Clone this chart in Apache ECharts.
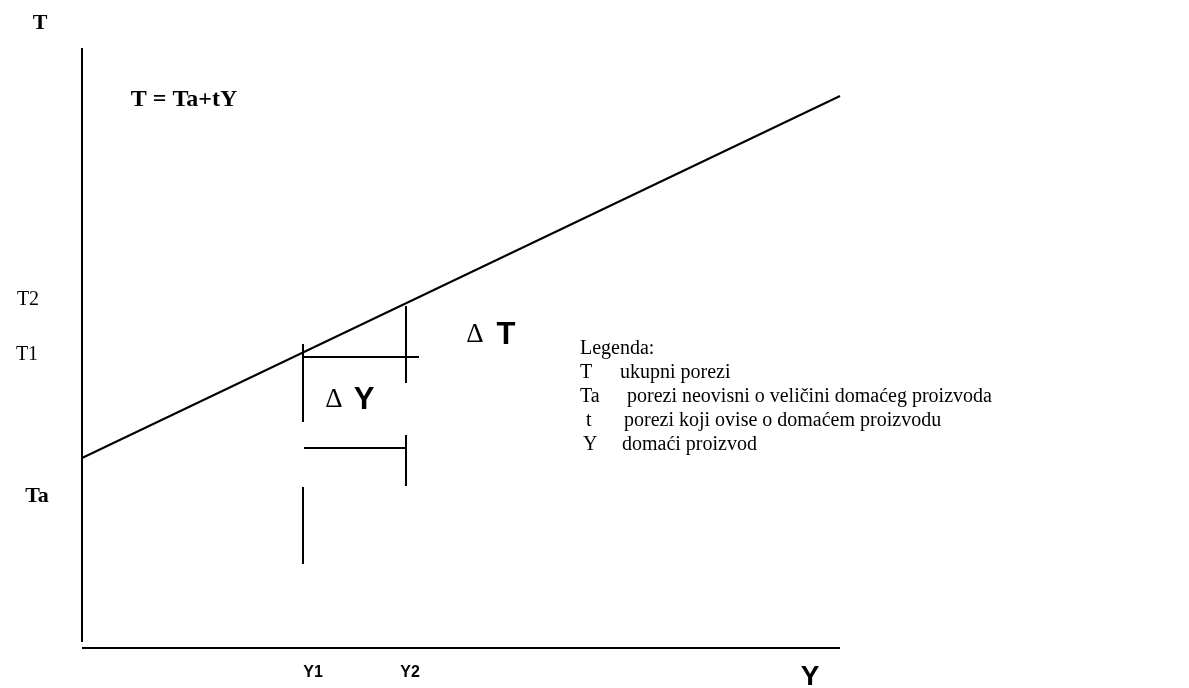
<!DOCTYPE html>
<html>
<head>
<meta charset="utf-8">
<title>T = Ta+tY</title>
<script src="https://cdn.jsdelivr.net/npm/echarts@6/dist/echarts.min.js"></script>
<style>
    html, body { margin: 0; padding: 0; background: #ffffff; }
    #chart { width: 1189px; height: 688px; }
</style>
</head>
<body>
<div id="chart"></div>
<script>
    // diagram units: x = domaći proizvod (Y), y = porezi (T)
    const xMax = 758;
    const yMax = 600;

    // T = Ta + tY
    const taxLine = [[0, 190], [758, 552]];

    // axes of the diagram
    const axisT = [[0, 6], [0, 600]];
    const axisY = [[0, 0], [758, 0]];

    // helper segments for ΔT and ΔY
    const deltaSegments = [
        [[221, 304], [221, 226]],
        [[221, 291], [337, 291]],
        [[324, 342], [324, 265]],
        [[222, 200], [324, 200]],
        [[324, 213], [324, 162]],
        [[221, 161], [221, 84]]
    ];

    const tickLabelsT = ['T2', 'T1', 'Ta'];
    const tickLabelsY = ['Y1', 'Y2'];

    const legendTitle = 'Legenda:';
    const legendKeys = ['T', 'Ta', 't', 'Y'];
    const legendTexts = [
        'ukupni porezi',
        'porezi neovisni o veličini domaćeg proizvoda',
        'porezi koji ovise o domaćem proizvodu',
        'domaći proizvod'
    ];

    const serif = '"Liberation Serif", "Times New Roman", serif';
    const sans = '"Liberation Sans", Arial, sans-serif';
    const narrow = '"Liberation Sans Narrow", "Liberation Sans", Arial, sans-serif';

    function txt(text, x, y, font, align) {
        return {
            type: 'text',
            x: x,
            y: y,
            style: {
                text: text,
                font: font,
                fill: '#000',
                align: align || 'center',
                verticalAlign: 'middle'
            }
        };
    }

    const legendKeyX = [580, 580, 586, 583];
    const legendTextX = [620, 627, 624, 622];
    const legendRowY = [349, 373, 397, 421, 445];

    const graphics = [
        txt('T', 40, 23, 'bold 22px ' + serif),
        txt('T = Ta+tY', 184, 100, 'bold 24px ' + serif),
        txt(tickLabelsT[0], 28, 300, '20px ' + serif),
        txt(tickLabelsT[1], 27, 355, '20px ' + serif),
        txt(tickLabelsT[2], 37, 496, 'bold 22px ' + serif),
        txt(tickLabelsY[0], 313, 673, 'bold 16px ' + narrow),
        txt(tickLabelsY[1], 410, 673, 'bold 16px ' + narrow),
        txt('Y', 810, 677, 'bold 28px ' + sans),
        txt('\u0394', 475, 335, '27px ' + serif),
        txt('T', 506, 335, 'bold 31px ' + sans),
        txt('\u0394', 334, 400, '27px ' + serif),
        txt('Y', 364, 400, 'bold 31px ' + sans),
        txt(legendTitle, 580, legendRowY[0], '20px ' + serif, 'left')
    ];
    legendKeys.forEach(function (k, i) {
        graphics.push(txt(k, legendKeyX[i], legendRowY[i + 1], '20px ' + serif, 'left'));
        graphics.push(txt(legendTexts[i], legendTextX[i], legendRowY[i + 1], '20px ' + serif, 'left'));
    });

    function seg(data, width) {
        return {
            type: 'line',
            data: data,
            symbol: 'none',
            silent: true,
            animation: false,
            clip: false,
            lineStyle: {color: '#000', width: width}
        };
    }

    const series = [
        seg(axisT, 2),
        seg(axisY, 2),
        seg(taxLine, 2)
    ];
    deltaSegments.forEach(function (s) {
        series.push(seg(s, 2));
    });

    const chart = echarts.init(document.getElementById('chart'));
    chart.setOption({
        backgroundColor: '#ffffff',
        animation: false,
        grid: {
            left: 82,
            top: 48,
            width: 758,
            height: 600
        },
        xAxis: {
            type: 'value',
            min: 0,
            max: xMax,
            show: false
        },
        yAxis: {
            type: 'value',
            min: 0,
            max: yMax,
            show: false
        },
        graphic: graphics,
        series: series
    });
</script>
</body>
</html>
